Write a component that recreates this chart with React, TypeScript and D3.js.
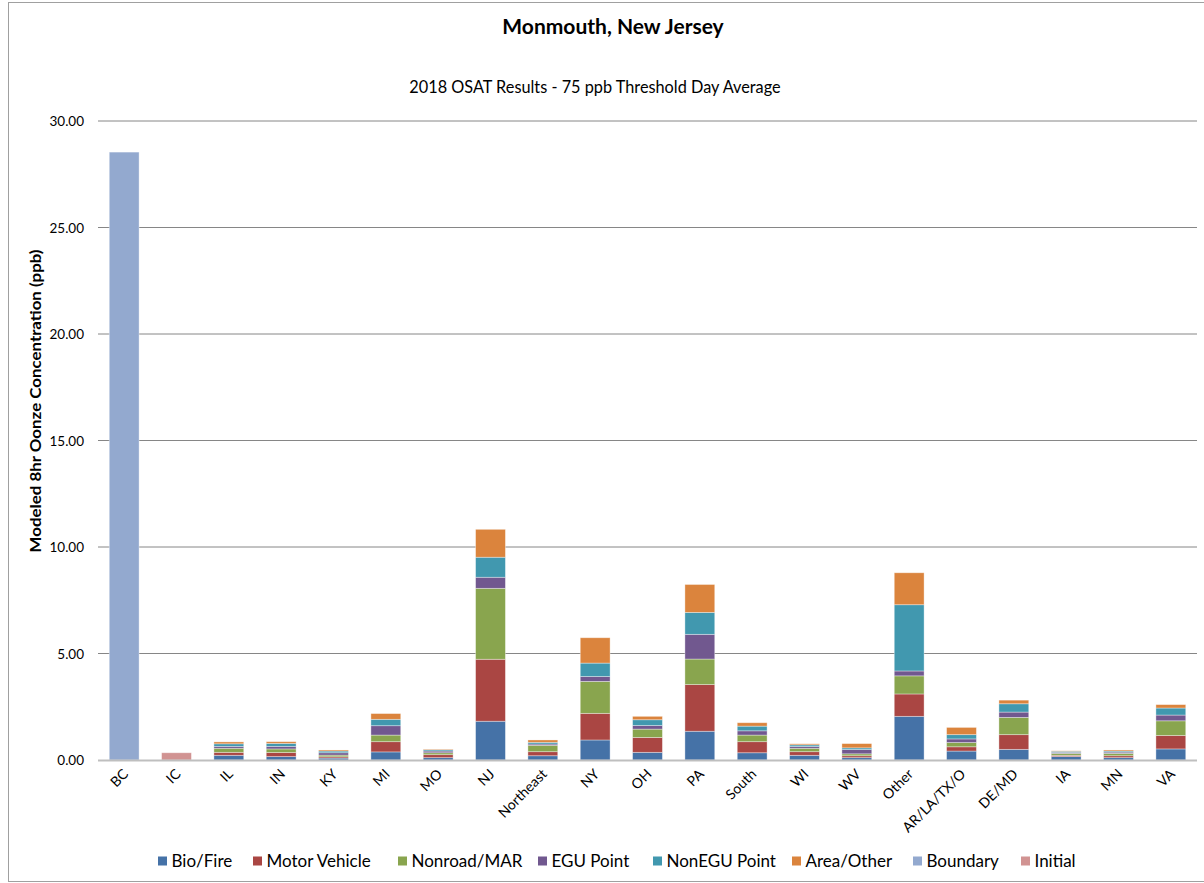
import React from "react";
import * as d3 from "d3";

const categories = ["BC","IC","IL","IN","KY","MI","MO","NJ","Northeast","NY","OH","PA","South","WI","WV","Other","AR/LA/TX/O","DE/MD","IA","MN","VA"];
const bioFire =      [0,0,0.22,0.16,0.09,0.38,0.11,1.82,0.20,0.94,0.36,1.35,0.34,0.22,0.11,2.05,0.42,0.50,0.16,0.11,0.52];
const motorVehicle = [0,0,0.14,0.19,0.06,0.48,0.14,2.91,0.19,1.25,0.70,2.19,0.52,0.17,0.09,1.05,0.20,0.69,0.06,0.09,0.63];
const nonroadMAR =   [0,0,0.19,0.17,0.08,0.31,0.09,3.33,0.30,1.50,0.39,1.20,0.31,0.16,0.09,0.85,0.20,0.81,0.09,0.11,0.69];
const egu =          [0,0,0.09,0.12,0.11,0.44,0.08,0.52,0.06,0.23,0.17,1.16,0.20,0.08,0.20,0.23,0.17,0.25,0.05,0.06,0.27];
const nonEgu =       [0,0,0.12,0.14,0.08,0.30,0.06,0.94,0.08,0.63,0.27,1.03,0.22,0.08,0.08,3.11,0.20,0.39,0.05,0.05,0.33];
const areaOther =    [0,0,0.09,0.08,0.05,0.27,0.03,1.31,0.11,1.19,0.16,1.31,0.16,0.05,0.20,1.50,0.34,0.17,0.02,0.05,0.16];
const boundary =     [28.54,0,0,0,0,0,0,0,0,0,0,0,0,0,0,0,0,0,0,0,0];
const initial =      [0,0.34,0,0,0,0,0,0,0,0,0,0,0,0,0,0,0,0,0,0,0];

const seriesNames = ["Bio/Fire","Motor Vehicle","Nonroad/MAR","EGU Point","NonEGU Point","Area/Other","Boundary","Initial"];
const seriesValues = [bioFire, motorVehicle, nonroadMAR, egu, nonEgu, areaOther, boundary, initial];
const colors = ["#4572A7","#AA4643","#89A54E","#71588F","#4198AF","#DB843D","#93A9CF","#D19392"];
const yTicks = [0,5,10,15,20,25,30];
const legendX = [158,253,398,538,653,792,913,1021];

const FONT = "Lato, 'Open Sans', sans-serif";

export default function App() {
  const W = 1204, H = 883;
  const x0 = 98, x1 = 1197, yTop = 121, yBot = 760;
  const x = d3.scaleBand<string>().domain(categories).range([x0, x1]).paddingInner(0.43).paddingOuter(0.215);
  const y = d3.scaleLinear().domain([0, 30]).range([yBot, yTop]);

  const rows = categories.map((c, i) => {
    const r: any = { cat: c };
    seriesNames.forEach((s, k) => (r[s] = seriesValues[k][i]));
    return r;
  });
  const stacked = d3.stack<any>().keys(seriesNames)(rows);

  return (
    <svg width={W} height={H} style={{ position: "absolute", left: 0, top: 0, background: "#fff" }} fontFamily={FONT}>
      <rect x={8.5} y={2.5} width={W} height={879} fill="#fff" stroke="#A0A0A0" strokeWidth={1} />
      <text x={613} y={34} textAnchor="middle" fontSize={21} fontWeight="bold">Monmouth, New Jersey</text>
      <text x={595} y={93} textAnchor="middle" fontSize={16.3}>2018 OSAT Results - 75 ppb Threshold Day Average</text>
      {yTicks.slice(1).map(t => (
        <line key={t} x1={x0} x2={x1} y1={y(t)} y2={y(t)} stroke="#868686" strokeWidth={1} />
      ))}
      {yTicks.map(t => (
        <text key={"l" + t} x={84} y={y(t) + 5} textAnchor="end" fontSize={13.5}>{t.toFixed(2)}</text>
      ))}
      <text transform={`translate(41,401) rotate(-90)`} textAnchor="middle" fontSize={15} fontWeight="bold"
        textLength={303} lengthAdjust="spacingAndGlyphs">Modeled 8hr Oonze Concentration (ppb)</text>
      {stacked.map((layer, k) => (
        <g key={k} fill={colors[k]}>
          {layer.map((d, i) => d[1] - d[0] > 0 ? (
            <rect key={i} x={x(categories[i])!} width={x.bandwidth()} y={y(d[1])} height={y(d[0]) - y(d[1])}
              stroke="rgba(255,255,255,0.45)" strokeWidth={0.8} />
          ) : null)}
        </g>
      ))}
      <line x1={x0} x2={x1} y1={yBot + 0.5} y2={yBot + 0.5} stroke="#BFBFBF" strokeWidth={2} />
      {categories.map(c => {
        const cx = x(c)! + x.bandwidth() / 2 + 5;
        return (
          <text key={c} transform={`translate(${cx},775) rotate(-45)`} textAnchor="end" fontSize={14}>{c}</text>
        );
      })}
      {seriesNames.map((s, k) => (
        <g key={s} transform={`translate(${legendX[k]},861)`}>
          <rect x={0} y={-4.5} width={9} height={9} fill={colors[k]} />
          <text x={13.5} y={5.5} fontSize={17}>{s}</text>
        </g>
      ))}
    </svg>
  );
}
